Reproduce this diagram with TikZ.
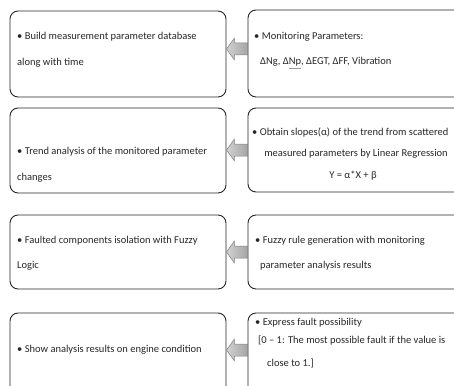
\documentclass[tikz,border=0pt]{standalone}
\usepackage{fontspec}
\setmainfont{Carlito}
\usetikzlibrary{calc}
\newcommand\greyul[1]{{\color{black!40}$\underline{\hbox{\color{black!85}#1}}$}}
\begin{document}
\begin{tikzpicture}[x=1pt,y=-1pt,
  box/.style={draw=black!85, line width=0.9pt, rounded corners=8pt, inner sep=0pt, minimum width=216pt},
  rbox/.style={draw=black!85, line width=0.9pt, rounded corners=8pt, inner sep=0pt, minimum width=222pt},
  txt/.style={anchor=base west, inner sep=0pt, font=\fontsize{10.5}{12}\selectfont, text=black!85},
  ctxt/.style={anchor=base, inner sep=0pt, font=\fontsize{10.5}{12}\selectfont, text=black!85},
  blockarrow/.style={left color=black!18, right color=black!35, draw=black!50, line width=0.5pt}
]
\useasboundingbox (0,0) rectangle (454,385);
\clip (0,0) rectangle (454,385);
% boxes
\node[box, minimum height=86pt] (L1) at (118,54) {};
\node[rbox, minimum height=87pt] (R1) at (359,53.5) {};
\node[box, minimum height=85pt] (L2) at (118,150.5) {};
\node[rbox, minimum height=84pt] (R2) at (359,150) {};
\node[box, minimum height=74pt] (L3) at (118,252) {};
\node[rbox, minimum height=74pt] (R3) at (359,252) {};
\node[box, minimum height=82pt] (L4) at (118,354) {};
\node[rbox, minimum height=82pt] (R4) at (359,354) {};
% texts
\node[txt] (t1a) at (17,40) {• Build measurement parameter database};
\node[txt] (t1b) at (17,66) {along with time};
\node[txt] (u1a) at (254,40) {• Monitoring Parameters:};
\node[txt] (u1b) at (260,65) {ΔNg, Δ\greyul{Np}, ΔEGT, ΔFF, Vibration};
\node[txt] (t2a) at (17,154) {• Trend analysis of the monitored parameter};
\node[txt] (t2b) at (17,180) {changes};
\node[txt] (u2a) at (252,135) {• Obtain slopes(α) of the trend from scattered};
\node[ctxt] (u2b) at (356,156) {measured parameters by Linear Regression};
\node[ctxt] (u2c) at (353,178) {Y = α*X + β};
\node[txt] (t3a) at (17,243) {• Faulted components isolation with Fuzzy};
\node[txt] (t3b) at (17,268) {Logic};
\node[txt] (u3a) at (255,243) {• Fuzzy rule generation with monitoring};
\node[txt] (u3b) at (260,268) {parameter analysis results};
\node[txt] (t4a) at (17,352) {• Show analysis results on engine condition};
\node[txt] (u4a) at (255,325) {• Express fault possibility};
\node[txt] (u4b) at (258,343) {[0 – 1: The most possible fault if the value is};
\node[txt] (u4c) at (267,366) {close to 1.]};
% block arrows
\foreach \r/\yy in {1/49, 2/150, 3/252, 4/350}{
  \path[blockarrow] ($(L\r.east |- 0,\yy)$) -- ++(8,-11) -- ++(0,5) -- ($(R\r.west |- 0,\yy)+(0,-6)$) -- ++(0,12) -- ($(L\r.east |- 0,\yy)+(8,6)$) -- ++(0,5) -- cycle;
}
\end{tikzpicture}
\end{document}
